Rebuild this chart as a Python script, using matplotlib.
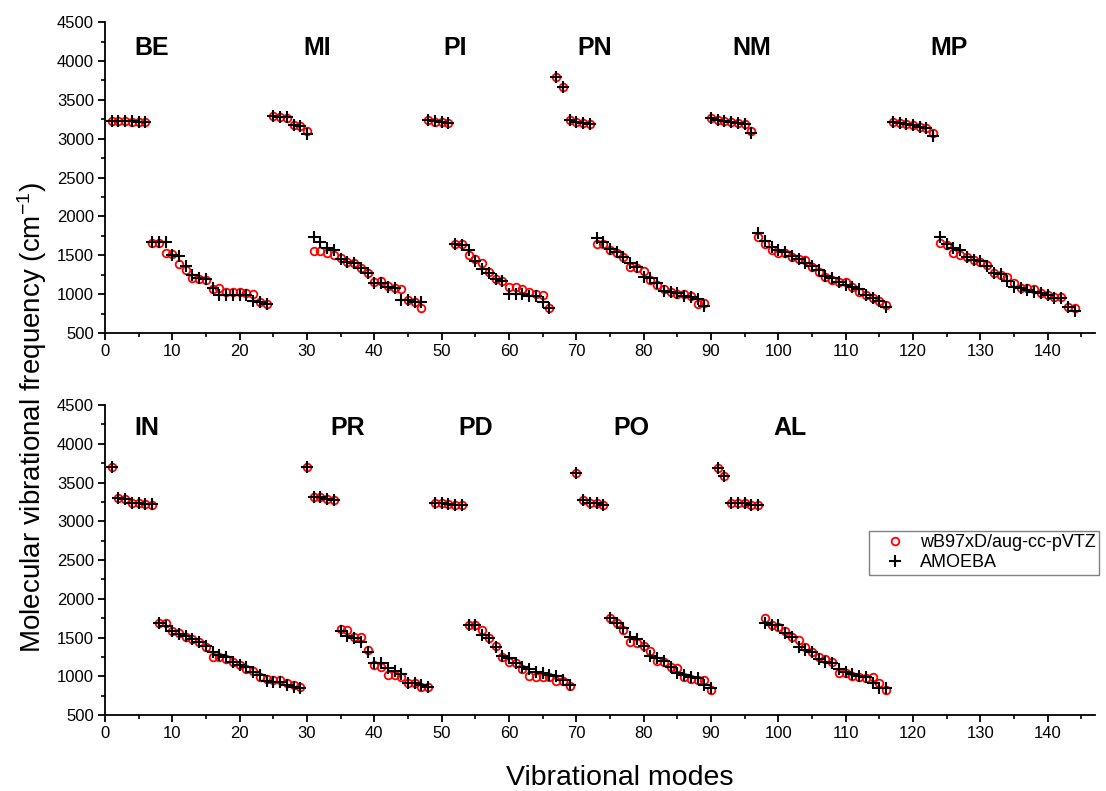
import numpy as np
import matplotlib
matplotlib.use("Agg")
import matplotlib.pyplot as plt
from matplotlib.ticker import MultipleLocator

plt.rcParams["font.family"] = ["Liberation Sans", "DejaVu Sans"]
plt.rcParams["mathtext.fontset"] = "custom"
plt.rcParams["mathtext.rm"] = "Liberation Sans"
plt.rcParams["mathtext.default"] = "regular"

# upper panel: BE, MI, PI, PN, NM, MP  (modes 1..144)
top_names = ["BE", "MI", "PI", "PN", "NM", "MP"]
top_label_x = [7, 31.5, 52, 72.8, 96, 125.3]

top_dft = [
    # BE
    3230, 3225, 3225, 3220, 3220, 3215,
    1654, 1654, 1525, 1517, 1387, 1310, 1211, 1190, 1180, 1062, 1075, 1032,
    1032, 1032, 1010, 1000, 895, 870,
    # MI
    3290, 3280, 3270, 3180, 3170, 3102,
    1558, 1558, 1525, 1503, 1460, 1420, 1404, 1332, 1268, 1160, 1170, 1100,
    1085, 1062, 930, 905, 818,
    # PI
    3240, 3220, 3210, 3205,
    1641, 1641, 1503, 1452, 1400, 1280, 1190, 1170, 1095, 1095, 1062, 1032,
    1000, 990, 820,
    # PN
    3796, 3667, 3239, 3218, 3205, 3187,
    1650, 1645, 1567, 1525, 1481, 1353, 1332, 1301, 1182, 1117, 1062, 1031,
    1001, 1001, 976, 873, 882,
    # NM
    3262, 3239, 3230, 3218, 3205, 3188, 3102,
    1738, 1650, 1567, 1525, 1535, 1473, 1447, 1440, 1353, 1290, 1225, 1182,
    1160, 1160, 1096, 1031, 989, 946, 916, 860,
    # MP
    3218, 3197, 3188, 3175, 3153, 3132, 3076,
    1654, 1633, 1525, 1503, 1481, 1438, 1420, 1375, 1276, 1246, 1225, 1139,
    1075, 1075, 1062, 1019, 989, 959, 959, 830, 816,
]

top_amoeba = [
    # BE
    3230, 3228, 3225, 3222, 3220, 3218,
    1675, 1675, 1666, 1500, 1495, 1362, 1246, 1203, 1195, 1075, 989, 989,
    989, 989, 989, 913, 895, 870,
    # MI
    3294, 3282, 3274, 3175, 3166, 3063,
    1738, 1674, 1589, 1567, 1448, 1420, 1404, 1332, 1268, 1147, 1147, 1095,
    1075, 924, 924, 900, 895,
    # PI
    3245, 3225, 3212, 3208,
    1641, 1630, 1567, 1430, 1319, 1270, 1190, 1170, 1001, 1001, 1001, 976,
    970, 895, 820,
    # PN
    3796, 3667, 3239, 3218, 3205, 3187,
    1718, 1674, 1576, 1546, 1481, 1404, 1353, 1216, 1203, 1139, 1044, 1031,
    1010, 976, 967, 933, 847,
    # NM
    3262, 3239, 3230, 3218, 3205, 3188, 3068,
    1782, 1688, 1610, 1567, 1546, 1490, 1447, 1404, 1362, 1310, 1233, 1203,
    1160, 1117, 1096, 1062, 989, 946, 916, 838,
    # MP
    3218, 3197, 3188, 3175, 3153, 3132, 3033,
    1730, 1645, 1590, 1567, 1481, 1438, 1430, 1362, 1267, 1259, 1173, 1087,
    1075, 1053, 1031, 1010, 989, 946, 946, 838, 786,
]

# lower panel: IN, PR, PD, PO, AL  (modes 1..116)
bottom_names = ["IN", "PR", "PD", "PO", "AL"]
bottom_label_x = [6.2, 36, 55, 78.2, 101.8]

bottom_dft = [
    # IN
    3703, 3295, 3282, 3230, 3230, 3222, 3215,
    1691, 1682, 1588, 1553, 1510, 1476, 1446, 1381, 1252, 1252, 1218, 1188,
    1145, 1090, 1073, 987, 960, 955, 955, 908, 887, 857,
    # PR
    3703, 3307, 3307, 3282, 3273,
    1605, 1596, 1510, 1502, 1338, 1145, 1124, 1016, 1016, 987, 908, 908,
    857, 865,
    # PD
    3239, 3230, 3222, 3209, 3209,
    1661, 1661, 1596, 1489, 1390, 1252, 1188, 1167, 1090, 1004, 987, 987,
    995, 935, 935, 874,
    # PO
    3618, 3273, 3239, 3239, 3209,
    1755, 1682, 1596, 1446, 1433, 1390, 1330, 1201, 1188, 1124, 1103, 995,
    960, 952, 952, 822,
    # AL
    3681, 3583, 3239, 3230, 3230, 3209, 3209,
    1747, 1661, 1639, 1588, 1510, 1467, 1381, 1317, 1244, 1218, 1188, 1038,
    1038, 1004, 987, 978, 987, 908, 822,
]

bottom_amoeba = [
    # IN
    3703, 3295, 3282, 3230, 3230, 3222, 3222,
    1691, 1648, 1588, 1545, 1519, 1476, 1446, 1390, 1317, 1274, 1252, 1188,
    1145, 1115, 1060, 1017, 943, 930, 930, 887, 857, 843,
    # PR
    3703, 3307, 3307, 3282, 3273,
    1588, 1519, 1489, 1446, 1317, 1175, 1175, 1103, 1068, 1030, 917, 908,
    887, 865,
    # PD
    3239, 3230, 3222, 3209, 3209,
    1661, 1661, 1532, 1489, 1381, 1261, 1231, 1175, 1124, 1090, 1060, 1038,
    1017, 1004, 952, 887,
    # PO
    3618, 3273, 3239, 3239, 3209,
    1755, 1682, 1618, 1510, 1476, 1390, 1261, 1231, 1201, 1124, 1038, 1017,
    995, 974, 887, 843,
    # AL
    3681, 3583, 3239, 3230, 3230, 3209, 3209,
    1682, 1661, 1661, 1553, 1510, 1381, 1338, 1317, 1218, 1188, 1167, 1090,
    1060, 1030, 1004, 995, 917, 843, 843,
]


fig = plt.figure(figsize=(11.06, 7.91), dpi=100)
ax_top = fig.add_axes([0.0949, 0.579, 0.895, 0.393])
ax_bot = fig.add_axes([0.0949, 0.096, 0.895, 0.392])


def draw_panel(ax, dft, amoeba, names, label_x, label_y):
    x = np.arange(1, len(dft) + 1)
    ax.plot(x, dft, linestyle="none", marker="o", ms=5.5, mfc="none",
            mec="red", mew=1.3, label="wB97xD/aug-cc-pVTZ", zorder=2)
    ax.plot(x, amoeba, linestyle="none", marker="+", ms=8, color="black",
            mew=1.5, label="AMOEBA", zorder=3)
    for name, lx in zip(names, label_x):
        ax.text(lx, label_y, name, fontsize=18, fontweight="bold",
                ha="center", va="center")
    ax.set_xlim(0, 147)
    ax.set_ylim(500, 4500)
    ax.xaxis.set_major_locator(MultipleLocator(10))
    ax.xaxis.set_minor_locator(MultipleLocator(5))
    ax.yaxis.set_major_locator(MultipleLocator(500))
    ax.yaxis.set_minor_locator(MultipleLocator(250))
    ax.spines["top"].set_visible(False)
    ax.spines["right"].set_visible(False)
    for s in ["left", "bottom"]:
        ax.spines[s].set_linewidth(1.3)
    ax.tick_params(which="major", length=5, width=1.3, labelsize=12, pad=3)
    ax.tick_params(which="minor", length=3, width=1.2)


draw_panel(ax_top, top_dft, top_amoeba, top_names, top_label_x, 4170)
draw_panel(ax_bot, bottom_dft, bottom_amoeba, bottom_names, bottom_label_x, 4200)

ax_bot.legend(loc="upper left", bbox_to_anchor=(0.786, 0.329),
              bbox_transform=fig.transFigure, fontsize=13, fancybox=False,
              edgecolor="gray", framealpha=1, handlelength=2.4,
              handletextpad=0.2, borderpad=0.2, labelspacing=0.15,
              borderaxespad=0)

fig.text(0.029, 0.472, "Molecular vibrational frequency (cm$^{-1}$)",
         rotation=90, fontsize=20, ha="center", va="center")
fig.text(0.56, 0.008, "Vibrational modes", fontsize=20.5, ha="center",
         va="baseline")

fig.savefig("out.png", dpi=100)
